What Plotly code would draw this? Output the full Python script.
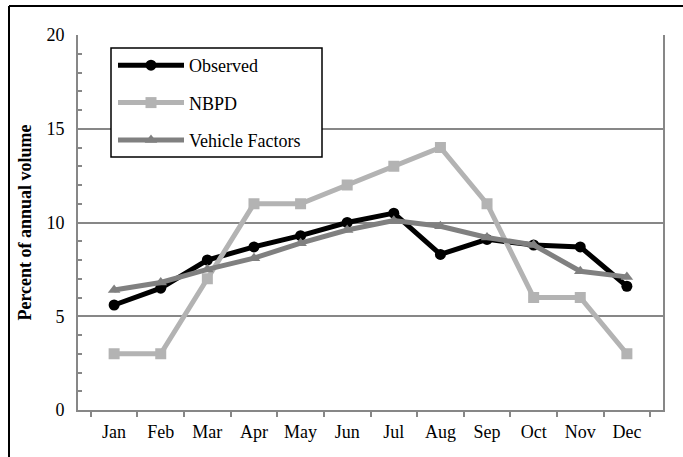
import plotly.graph_objects as go

months = ["Jan", "Feb", "Mar", "Apr", "May", "Jun", "Jul", "Aug", "Sep", "Oct", "Nov", "Dec"]
observed = [5.6, 6.5, 8.0, 8.7, 9.3, 10.0, 10.5, 8.3, 9.1, 8.8, 8.7, 6.6]
nbpd = [3, 3, 7, 11, 11, 12, 13, 14, 11, 6, 6, 3]
vehicle_factors = [6.4, 6.8, 7.5, 8.1, 8.9, 9.6, 10.1, 9.8, 9.2, 8.8, 7.4, 7.1]

FONT = "Liberation Serif, Times New Roman, serif"
GRID = "#878787"

# plot area in px (used to place the frame lines / legend box)
W, H = 683, 457
L, R, T, B = 78, 20, 35, 47
pw, ph = W - L - R, H - T - B


def px_x(x):
    return (x - L) / pw


def px_y(y):
    return (H - B - y) / ph


fig = go.Figure()
series = [
    ("Observed", observed, "#000000", "circle", 11),
    ("NBPD", nbpd, "#b3b3b3", "square", 11),
    ("Vehicle Factors", vehicle_factors, "#808080", "triangle-up", 11),
]
for name, vals, color, sym, size in series:
    fig.add_trace(go.Scatter(
        x=months, y=vals, name=name, mode="lines+markers",
        line=dict(color=color, width=5),
        marker=dict(symbol=sym, size=size, color=color),
        legendgroup=name,
    ))

fig.update_layout(
    width=W, height=H,
    margin=dict(l=L, r=R, t=T, b=B),
    paper_bgcolor="white", plot_bgcolor="white",
    font=dict(family=FONT, size=18, color="black"),
    showlegend=True,
    legend=dict(
        x=px_x(113), y=px_y(47), xanchor="left", yanchor="top",
        bgcolor="rgba(0,0,0,0)", borderwidth=0,
        font=dict(family=FONT, size=18), tracegroupgap=11, itemwidth=66,
        traceorder="grouped",
    ),
    xaxis=dict(
        type="category", tickson="boundaries", ticks="outside", ticklen=5,
        tickcolor=GRID, tickwidth=1.5, showline=True, linecolor=GRID, linewidth=2,
        mirror=False, showgrid=False, zeroline=False, ticklabelstandoff=4,
    ),
    yaxis=dict(
        range=[0, 20], dtick=5, showgrid=True, gridcolor=GRID, gridwidth=1.5,
        showline=True, linecolor=GRID, linewidth=2, mirror=True, zeroline=False,
        ticks="", ticklabelstandoff=8,
        minor=dict(dtick=1, ticks="inside", ticklen=4, tickcolor=GRID, tickwidth=1.5, showgrid=False),
        title=dict(text="<b>Percent of annual volume</b>", standoff=10,
                   font=dict(family=FONT, size=18)),
    ),
    shapes=[
        # legend box
        dict(type="rect", xref="paper", yref="paper", layer="above",
             x0=px_x(111), x1=px_x(322), y0=px_y(157), y1=px_y(48),
             fillcolor="white", line=dict(color="black", width=1.5)),
        # outer frame (top and left edges)
        dict(type="line", xref="paper", yref="paper", x0=px_x(9), x1=px_x(683),
             y0=px_y(6), y1=px_y(6), line=dict(color="black", width=2)),
        dict(type="line", xref="paper", yref="paper", x0=px_x(9), x1=px_x(9),
             y0=px_y(6), y1=px_y(457), line=dict(color="black", width=2)),
    ],
)

fig.write_html("out.html", config={"displayModeBar": False},
               post_script="document.body.style.margin='0';")
